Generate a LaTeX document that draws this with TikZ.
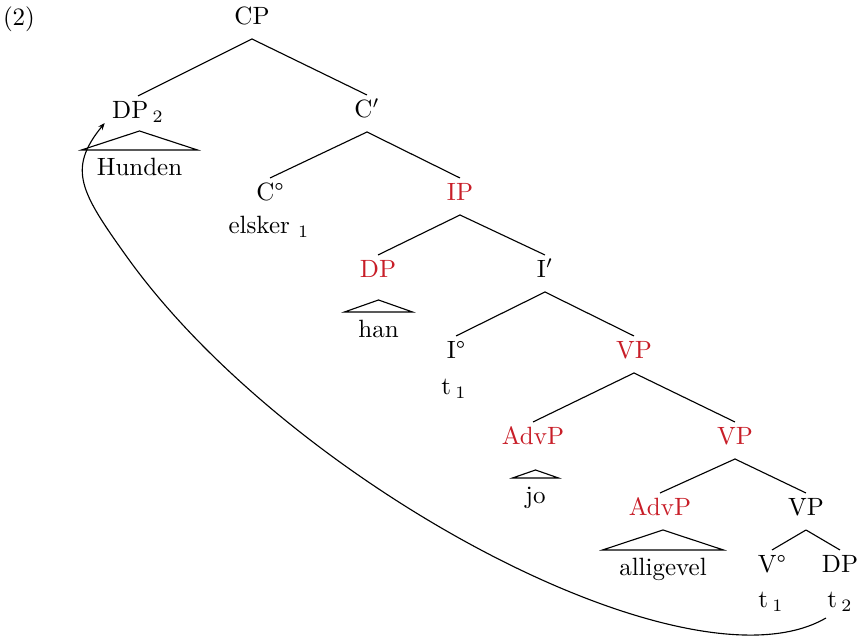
\documentclass[tikz,border=0pt]{standalone}
\usetikzlibrary{arrows.meta,calc}
\definecolor{catred}{RGB}{200,30,40}
\begin{document}
\begin{tikzpicture}[x=0.4pt,y=-0.4pt,
  every node/.style={font=\fontsize{10}{12}\selectfont, inner sep=0pt},
  cat/.style={anchor=base, inner xsep=0pt, inner ysep=2.2pt, text height=6.8pt, text depth=3.2pt},
  hl/.style={text=catred},
  leaf/.style={anchor=base, inner sep=0pt},
  word/.style={anchor=north, inner xsep=0pt, inner ysep=3.2pt, text height=6.8pt, text depth=2pt},
  branch/.style={line width=0.45pt},
  roof/.style={line width=0.45pt, line join=miter},
  move/.style={line width=0.45pt, -{Stealth[length=2.8pt,width=2.2pt]}}]
\useasboundingbox (0,0) rectangle (862,637);

% example number
\node[leaf] (ex) at (19,26) {(2)};

% categories
\node[cat] (cp) at (252,25) {CP};
\node[cat] (dp2) at (138,119) {DP\,$_2$};
\node[cat] (cbar) at (367,118) {C$'$};
\node[cat] (c0) at (270,201) {C°};
\node[leaf] (elsker) at (269,234) {elsker\ $_1$};
\node[cat,hl] (ip) at (460,201) {IP};
\node[cat,hl] (dpr) at (378,278) {DP};
\node[cat] (ibar) at (545,278) {I$'$};
\node[cat] (i0) at (456,359) {I°};
\node[leaf] (ta) at (454,395) {t\,$_1$};
\node[cat,hl] (vpa) at (634,359) {VP};
\node[cat,hl] (advpa) at (533,445) {AdvP};
\node[cat,hl] (vpb) at (735,445) {VP};
\node[cat,hl] (advpb) at (660,516) {AdvP};
\node[cat] (vpc) at (806,516) {VP};
\node[cat] (v0) at (772,573) {V°};
\node[cat] (dpt) at (840,573) {DP};
\node[leaf] (tb) at (771,608) {t\,$_1$};
\node[leaf] (tc) at (840,608) {t\,$_2$};

% words under roofs
\node[word, minimum width=46pt] (hunden) at (139.5,150) {Hunden};
\node[word, minimum width=26.8pt] (han) at (378.5,312) {han};
\node[word, minimum width=18pt] (jo) at (535.5,478) {jo};
\node[word, minimum width=48pt] (alligevel) at (663,550) {alligevel};

% branches
\draw[branch] (cp.south) -- (dp2.north);
\draw[branch] (cp.south) -- (cbar.north);
\draw[branch] (cbar.south) -- (c0.north);
\draw[branch] (cbar.south) -- (ip.north);
\draw[branch] (ip.south) -- (dpr.north);
\draw[branch] (ip.south) -- (ibar.north);
\draw[branch] (ibar.south) -- (i0.north);
\draw[branch] (ibar.south) -- (vpa.north);
\draw[branch] (vpa.south) -- (advpa.north);
\draw[branch] (vpa.south) -- (vpb.north);
\draw[branch] (vpb.south) -- (advpb.north);
\draw[branch] (vpb.south) -- (vpc.north);
\draw[branch] (vpc.south) -- (v0.north);
\draw[branch] (vpc.south) -- (dpt.north);

% roofs
\draw[roof] (hunden.north west) -- ($(hunden.north)+(0,-19)$) -- (hunden.north east) -- cycle;
\draw[roof] (han.north west) -- ($(han.north)+(0,-12)$) -- (han.north east) -- cycle;
\draw[roof] (jo.north west) -- ($(jo.north)+(0,-8)$) -- (jo.north east) -- cycle;
\draw[roof] (alligevel.north west) -- ($(alligevel.north)+(0,-20)$) -- (alligevel.north east) -- cycle;

% movement of the object to the front
\coordinate (bend) at (127,257);
\draw[move] ($(tc.base)+(-14,10)$) .. controls +(-137.6,80) and +(162.4,226.8) .. (bend)
  .. controls +(-46.4,-64.8) and +(-37.8,46.2) .. ($(dp2.base west)+(-7,4)$);
\end{tikzpicture}
\end{document}
